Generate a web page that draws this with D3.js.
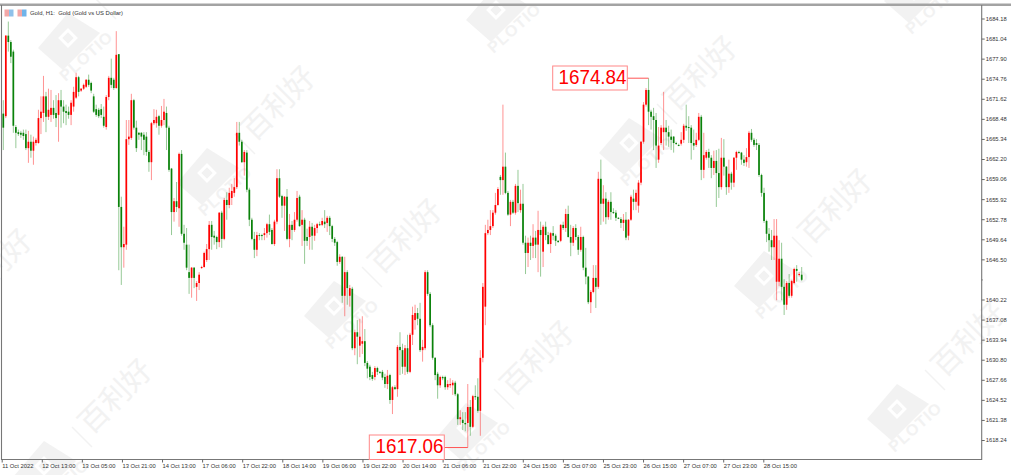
<!DOCTYPE html>
<html><head><meta charset="utf-8">
<script src="https://cdn.jsdelivr.net/npm/d3@7/dist/d3.min.js"></script>
<style>html,body{margin:0;padding:0;background:#fff;overflow:hidden}svg{display:block}text{font-family:"Liberation Sans",Arial,sans-serif}</style>
</head><body><svg id="c" width="1011" height="475"></svg>
<script>
const title = "Gold, H1:  Gold (Gold vs US Dollar)";
const xLabels = ["11 Oct 2022","12 Oct 13:00","13 Oct 05:00","13 Oct 21:00","14 Oct 13:00","17 Oct 06:00","17 Oct 22:00","18 Oct 14:00","19 Oct 06:00","19 Oct 22:00","20 Oct 14:00","21 Oct 06:00","21 Oct 22:00","24 Oct 15:00","25 Oct 07:00","25 Oct 23:00","26 Oct 15:00","27 Oct 07:00","27 Oct 23:00","28 Oct 15:00"];
const yLabels = [1684.18,1681.04,1677.90,1674.76,1671.62,1668.48,1665.34,1662.20,1659.06,1655.92,1652.78,1649.64,1646.50,1643.36,1640.22,1637.08,1633.94,1630.80,1627.66,1624.52,1621.38,1618.24];
const unlabelledTick = 1643.36;
const highLabel = 1674.84, lowLabel = 1617.06;

const opens = [
1669.3,1668.9,1681.5,1680.5,1679.0,1667.2,1666.4,1666.3,1666.3,1666.1,
1663.9,1664.9,1663.5,1664.7,1664.7,1668.6,1669.4,1672.0,1668.8,1669.1,
1670.2,1669.4,1669.1,1671.4,1670.4,1669.7,1669.6,1669.1,1670.4,1671.8,
1675.0,1672.9,1673.2,1673.5,1674.6,1674.1,1672.0,1670.0,1669.9,1670.0,
1668.8,1667.2,1671.9,1674.9,1674.6,1673.3,1678.6,1654.7,1648.4,1648.8,
1665.3,1665.5,1671.4,1667.1,1666.3,1666.3,1666.0,1665.7,1663.3,1661.7,
1667.8,1667.8,1668.9,1667.4,1668.3,1669.4,1667.1,1660.7,1653.9,1655.6,
1654.5,1663.0,1650.5,1648.8,1644.5,1643.6,1645.2,1642.2,1642.8,1645.2,
1645.3,1646.4,1648.1,1651.9,1650.2,1650.0,1649.2,1653.8,1649.7,1655.8,
1655.0,1656.1,1656.9,1657.8,1666.3,1664.9,1661.7,1663.2,1657.4,1652.7,
1649.7,1648.0,1650.3,1650.3,1650.3,1650.6,1652.0,1651.1,1648.9,1652.4,
1659.2,1656.4,1654.9,1656.3,1649.7,1651.9,1651.1,1652.7,1656.3,1651.9,
1652.7,1650.0,1650.0,1651.6,1650.2,1651.4,1652.0,1651.9,1652.4,1652.2,
1653.0,1651.7,1649.7,1649.2,1646.1,1646.9,1640.8,1644.5,1640.8,1641.9,
1632.6,1635.1,1633.0,1633.3,1633.7,1630.3,1629.7,1628.4,1628.1,1629.5,
1628.9,1628.9,1628.1,1627.0,1628.4,1624.5,1626.5,1626.2,1632.8,1632.3,
1629.7,1632.6,1628.9,1634.7,1637.0,1638.1,1637.2,1632.3,1632.6,1644.5,
1641.1,1636.2,1631.1,1628.6,1626.8,1628.1,1628.1,1626.5,1626.8,1626.8,
1627.2,1625.4,1621.5,1621.4,1620.9,1620.9,1623.4,1620.3,1625.1,1625.0,
1622.8,1631.1,1639.1,1650.6,1651.1,1651.7,1653.8,1655.0,1659.4,1658.9,
1661.0,1656.9,1653.5,1655.5,1653.8,1658.0,1654.2,1655.2,1649.1,1647.5,
1649.1,1648.6,1649.9,1648.8,1651.1,1647.7,1651.6,1650.3,1648.9,1650.6,
1650.2,1649.4,1649.4,1651.9,1651.4,1653.6,1650.0,1649.1,1651.4,1650.0,
1648.0,1650.0,1645.2,1643.8,1639.8,1641.4,1643.6,1642.2,1659.1,1655.2,
1656.0,1653.1,1655.5,1653.9,1653.8,1653.0,1652.8,1652.2,1652.7,1650.2,
1652.7,1656.0,1655.5,1654.9,1658.5,1664.9,1670.7,1673.0,1669.6,1668.9,
1668.3,1662.1,1664.7,1666.4,1667.1,1666.4,1665.7,1665.7,1664.7,1664.4,
1664.6,1665.2,1667.4,1667.2,1667.1,1664.7,1664.4,1665.2,1668.8,1660.5,
1662.4,1663.3,1662.4,1660.8,1661.9,1660.0,1657.8,1662.4,1661.0,1657.8,
1659.9,1658.5,1662.4,1663.3,1663.2,1662.1,1661.7,1662.5,1666.3,1665.2,
1664.7,1664.4,1659.7,1656.9,1652.5,1650.5,1649.5,1648.4,1643.0,1643.0,
1646.6,1642.2,1639.4,1642.8,1640.8,1642.8,1645.0,1644.1,1644.1];
const closes = [
1667.1,1681.5,1680.5,1678.2,1667.4,1666.3,1666.1,1666.0,1665.8,1663.9,
1664.9,1663.5,1664.9,1665.2,1668.6,1669.6,1672.0,1668.8,1669.9,1670.2,
1669.1,1668.6,1671.4,1670.4,1669.6,1669.4,1669.1,1671.0,1672.7,1675.0,
1672.7,1673.2,1673.8,1674.6,1673.8,1672.9,1669.6,1669.1,1668.9,1669.1,
1667.4,1671.9,1674.9,1673.8,1673.3,1678.5,1654.7,1648.4,1648.9,1665.3,
1665.7,1671.4,1667.1,1663.9,1666.0,1665.7,1665.2,1663.3,1661.7,1667.8,
1668.3,1668.8,1667.4,1668.3,1669.6,1667.1,1660.5,1653.9,1655.6,1654.7,
1663.0,1650.5,1649.1,1645.2,1643.6,1645.2,1643.6,1642.8,1644.1,1645.3,
1647.5,1648.1,1651.9,1650.0,1649.9,1649.2,1653.8,1649.7,1655.8,1655.0,
1656.9,1657.2,1657.8,1666.3,1664.9,1661.7,1663.3,1657.4,1652.7,1649.7,
1648.0,1650.3,1650.2,1650.2,1650.6,1652.0,1650.8,1648.9,1652.4,1659.2,
1656.3,1654.9,1656.3,1649.7,1651.9,1651.1,1652.7,1656.1,1651.7,1652.7,
1649.4,1649.4,1651.6,1650.2,1651.4,1652.0,1651.9,1652.5,1652.0,1653.0,
1651.7,1649.7,1649.1,1646.1,1646.9,1640.8,1644.5,1642.0,1642.0,1632.6,
1635.1,1634.4,1634.4,1633.7,1630.3,1629.4,1628.1,1627.8,1629.5,1628.9,
1628.8,1628.0,1627.0,1628.3,1624.5,1626.5,1626.2,1632.8,1632.3,1629.7,
1632.6,1628.9,1634.7,1637.8,1638.1,1637.2,1632.3,1632.8,1644.5,1641.1,
1636.2,1631.1,1628.4,1626.8,1628.1,1627.9,1626.5,1627.0,1627.0,1627.2,
1625.4,1621.5,1621.8,1620.9,1620.7,1623.4,1620.3,1625.1,1625.0,1622.8,
1631.1,1642.2,1650.6,1651.1,1651.7,1653.8,1655.0,1657.5,1658.9,1661.0,
1656.9,1653.5,1655.5,1653.8,1658.0,1655.3,1655.2,1649.1,1647.5,1649.1,
1648.6,1649.9,1648.8,1651.1,1650.3,1651.6,1650.3,1648.9,1650.6,1650.2,
1649.4,1649.2,1651.9,1651.4,1653.6,1650.0,1649.1,1651.4,1650.0,1648.0,
1650.0,1645.2,1643.8,1639.8,1641.4,1643.6,1642.2,1659.1,1655.2,1656.0,
1653.1,1655.5,1653.9,1653.8,1653.0,1652.9,1652.2,1652.7,1649.9,1652.7,
1656.3,1655.5,1656.9,1658.5,1664.9,1670.7,1673.0,1669.6,1668.8,1668.3,
1664.3,1664.3,1667.1,1667.1,1666.4,1665.7,1665.2,1664.7,1664.6,1664.3,
1665.2,1667.4,1667.1,1667.1,1664.7,1664.3,1665.2,1668.8,1660.5,1662.8,
1663.3,1662.4,1660.8,1661.9,1660.0,1657.8,1662.4,1661.0,1657.8,1659.9,
1658.5,1662.4,1663.3,1663.2,1662.1,1661.6,1662.5,1666.3,1665.2,1664.4,
1664.4,1659.7,1656.9,1652.5,1650.5,1649.5,1648.4,1650.2,1650.2,1646.6,
1642.2,1639.4,1642.8,1640.8,1643.1,1645.0,1644.7,1644.2,1643.3];
const highs = [
1671.4,1681.6,1683.7,1680.8,1679.3,1667.5,1666.8,1666.6,1666.8,1666.8,
1666.6,1666.0,1665.7,1665.5,1669.9,1672.0,1675.2,1672.7,1673.2,1673.0,
1671.4,1672.2,1672.5,1673.0,1671.4,1670.7,1670.4,1671.4,1673.5,1675.7,
1675.2,1673.3,1674.0,1674.7,1675.4,1674.3,1672.4,1670.7,1670.2,1670.8,
1670.4,1672.2,1675.2,1677.9,1674.9,1682.2,1678.6,1656.3,1651.6,1668.3,
1668.3,1672.4,1671.6,1668.2,1666.4,1666.4,1666.4,1666.4,1663.6,1668.0,
1670.0,1669.9,1669.1,1670.5,1671.6,1670.4,1667.4,1660.8,1656.1,1658.6,
1663.2,1663.6,1651.9,1651.4,1648.8,1645.3,1645.3,1643.1,1644.5,1645.5,
1647.7,1648.9,1652.5,1652.5,1650.95,1650.2,1653.9,1654.1,1656.1,1657.0,
1657.7,1658.3,1659.2,1668.0,1668.0,1665.2,1663.6,1663.6,1657.7,1653.0,
1650.8,1650.8,1650.6,1650.5,1651.4,1652.2,1653.5,1651.4,1652.7,1660.6,
1660.6,1656.6,1656.4,1657.5,1653.6,1652.5,1653.9,1657.2,1656.6,1654.2,
1653.0,1651.3,1652.5,1652.2,1651.9,1652.2,1652.4,1653.0,1654.2,1653.3,
1653.3,1651.9,1650.0,1649.4,1647.3,1647.0,1646.9,1644.8,1642.5,1642.2,
1635.5,1637.0,1637.2,1637.6,1635.6,1630.6,1630.0,1628.9,1629.8,1629.7,
1629.0,1629.2,1628.6,1629.2,1628.6,1626.7,1626.8,1633.1,1635.1,1633.3,
1633.1,1634.7,1635.0,1639.1,1639.4,1638.9,1639.7,1633.9,1644.8,1644.8,
1641.4,1636.5,1631.2,1628.9,1628.3,1628.3,1628.3,1627.6,1627.9,1627.6,
1627.5,1625.6,1622.9,1622.6,1622.6,1627.0,1624.5,1625.3,1626.8,1627.9,
1632.3,1642.8,1651.9,1652.7,1654.2,1654.2,1656.9,1657.8,1659.7,1670.7,
1663.2,1657.2,1655.8,1655.8,1658.3,1660.5,1657.4,1658.3,1650.2,1649.9,
1650.2,1652.0,1650.95,1654.1,1652.4,1651.9,1652.4,1650.8,1650.8,1651.7,
1650.5,1649.5,1652.0,1652.4,1654.4,1654.9,1651.9,1651.7,1652.0,1650.3,
1651.6,1650.2,1648.3,1643.9,1641.7,1645.6,1645.6,1660.2,1662.1,1658.1,
1657.0,1655.8,1657.0,1654.5,1654.2,1653.1,1653.1,1653.6,1653.9,1652.8,
1656.6,1657.4,1657.4,1658.9,1665.0,1671.1,1673.3,1674.84,1669.9,1670.2,
1669.4,1667.2,1667.5,1672.7,1668.3,1667.4,1666.8,1665.8,1664.9,1664.6,
1666.4,1667.7,1670.7,1668.9,1667.5,1666.8,1666.3,1669.4,1669.1,1666.3,
1663.6,1663.8,1662.8,1663.5,1663.6,1663.8,1665.5,1665.3,1661.1,1662.1,
1660.2,1662.5,1663.5,1663.5,1663.3,1662.8,1663.9,1666.6,1666.9,1665.5,
1665.3,1664.7,1659.9,1657.7,1652.7,1651.4,1651.1,1652.8,1652.8,1649.5,
1649.1,1643.4,1643.1,1644.2,1643.3,1645.2,1645.6,1644.5,1645.3];
const lows = [
1663.6,1668.6,1679.0,1677.2,1666.3,1663.9,1665.8,1665.5,1665.2,1663.6,
1661.6,1662.4,1661.3,1664.3,1664.6,1666.1,1668.0,1666.4,1668.3,1668.0,
1668.5,1667.2,1664.9,1667.1,1667.8,1667.5,1668.5,1667.5,1669.6,1671.6,
1672.0,1672.7,1673.0,1673.3,1673.5,1672.5,1669.4,1668.8,1668.6,1668.6,
1667.1,1666.8,1671.4,1673.3,1673.0,1673.2,1644.8,1642.5,1645.2,1648.0,
1664.4,1665.2,1666.8,1663.3,1665.2,1663.6,1662.8,1662.7,1660.2,1658.9,
1667.5,1667.1,1666.0,1667.1,1667.5,1663.6,1660.2,1650.3,1652.4,1653.9,
1651.6,1650.2,1648.0,1644.8,1641.1,1640.5,1642.0,1640.0,1641.7,1645.0,
1645.2,1646.1,1646.4,1648.0,1648.8,1648.1,1648.4,1648.3,1649.5,1652.7,
1654.5,1655.0,1656.3,1657.5,1664.3,1661.6,1659.6,1657.0,1651.7,1649.5,
1646.7,1647.0,1649.5,1649.5,1649.5,1649.9,1650.3,1648.8,1648.6,1652.0,
1656.1,1653.0,1650.95,1649.5,1648.4,1649.5,1650.8,1652.4,1651.6,1648.6,
1645.8,1648.6,1648.0,1648.0,1649.4,1650.6,1651.7,1651.7,1651.4,1650.8,
1650.3,1649.2,1648.6,1645.5,1645.8,1639.7,1637.6,1639.4,1639.1,1632.3,
1631.5,1630.1,1631.2,1631.7,1629.8,1627.9,1627.6,1627.5,1627.6,1628.4,
1628.6,1627.6,1626.4,1626.2,1623.9,1622.3,1626.1,1625.0,1628.4,1628.6,
1628.4,1628.6,1628.7,1633.1,1635.5,1636.2,1632.0,1630.5,1632.3,1640.8,
1635.9,1630.8,1627.6,1624.7,1626.4,1627.6,1626.1,1626.1,1626.4,1625.3,
1625.1,1620.6,1620.6,1619.8,1619.6,1617.06,1618.9,1620.1,1624.5,1622.5,
1618.9,1630.4,1636.2,1650.3,1650.3,1651.4,1653.5,1654.9,1656.6,1656.6,
1656.7,1653.3,1651.7,1653.6,1653.5,1653.9,1653.8,1648.8,1644.2,1645.3,
1646.4,1646.7,1646.7,1644.5,1643.8,1645.3,1649.5,1648.8,1647.5,1649.5,
1648.6,1649.1,1649.2,1651.1,1650.8,1649.9,1647.0,1648.6,1649.5,1647.2,
1647.7,1644.8,1642.6,1639.5,1638.1,1641.2,1638.9,1641.9,1651.9,1652.4,
1652.0,1652.7,1652.7,1653.6,1652.5,1652.8,1651.4,1650.95,1649.5,1649.5,
1652.5,1654.2,1654.2,1653.8,1658.1,1664.6,1670.4,1667.5,1666.8,1663.6,
1660.8,1661.6,1664.4,1663.6,1664.3,1664.1,1663.6,1663.2,1664.4,1664.2,
1664.3,1664.7,1666.6,1664.7,1662.1,1663.6,1664.1,1665.0,1658.9,1659.2,
1662.1,1660.8,1659.2,1659.7,1654.7,1656.1,1657.4,1659.6,1656.6,1656.9,
1657.4,1657.8,1660.5,1663.0,1661.3,1661.1,1661.0,1660.8,1664.9,1664.1,
1663.6,1659.4,1656.3,1652.2,1649.2,1647.7,1646.4,1646.4,1640.1,1642.3,
1640.1,1637.8,1638.6,1640.5,1640.5,1642.6,1643.0,1643.8,1643.1];

const wmDiamonds = [[69,42],[208,177],[335,310],[467,432],[497,14],[630,147],[765,280],[898,413],[45,470],[-75,340],[915,-5]];

const svg = d3.select("#c");
const x = d3.scaleLinear().domain([0, opens.length-1]).range([3.3, 801.7]);
const xTick = d3.scaleLinear().domain([0, 304]).range([1.7, 763.3]);
const y = d3.scaleLinear().domain([1684.18, 1618.24]).range([18.5, 440]);

// watermarks
const wmColor = "#f2f2f2";
const wm = svg.append("g").selectAll("g").data(wmDiamonds).join("g")
  .attr("transform", d => `translate(${d[0]},${d[1]})`);
wm.filter(d=>d[0]>-40).append("path").attr("d","M-1,-29L31,-9L-6,28L-31,6Z").attr("fill",wmColor);
wm.filter(d=>d[0]>-40).append("rect").attr("x",-5.5).attr("y",-5.5).attr("width",11).attr("height",11)
  .attr("transform","translate(-1,-4) rotate(45)").attr("fill",wmColor).attr("stroke","#fff").attr("stroke-width",3);
wm.filter(d=>d[0]>-40).append("text").text("PLOTIO").attr("transform","translate(18,15) rotate(-42)")
  .attr("text-anchor","middle").attr("dominant-baseline","middle")
  .attr("font-size",16).attr("font-weight",700).attr("letter-spacing",1).attr("fill",wmColor);
wm.append("line").attr("x1",27).attr("y1",-43).attr("x2",47).attr("y2",-23).attr("stroke",wmColor).attr("stroke-width",1.5);
wm.filter(d=>d[1]>60).append("text").text("百利好").attr("transform","translate(72,-72) rotate(-45)")
  .attr("text-anchor","middle").attr("dominant-baseline","middle")
  .style("font-family",'"Noto Sans CJK SC"').attr("font-size",30).attr("fill",wmColor);

// frame
svg.append("rect").attr("x",0).attr("y",3.5).attr("width",1011).attr("height",2.5).attr("fill","#a3a3a3");
svg.append("path").attr("d","M1.5,5V459.5H981.7V5").attr("fill","none").attr("stroke","#777").attr("stroke-width",1.1);

// axes
const yAxis = d3.axisRight(y).tickValues(yLabels).tickFormat(d => d === unlabelledTick ? "" : d3.format(".2f")(d)).tickSize(3).tickPadding(1);
const gy = svg.append("g").attr("transform","translate(981.7,0)").call(yAxis);
const xAxis = d3.axisBottom(xTick).tickValues(xLabels.map((_,i)=>i*16)).tickFormat((_,i)=>xLabels[i]).tickSize(3).tickPadding(0);
const gx = svg.append("g").attr("transform","translate(0,459.5)").call(xAxis);
gy.select(".domain").remove(); gx.select(".domain").remove();
gy.selectAll("line").attr("stroke","#666");
gy.selectAll("g.tick").filter(d=>d===unlabelledTick).select("line").attr("x2",1);
gx.selectAll("line").attr("stroke","#666");
gy.selectAll("text").attr("font-size",5.8).attr("fill","#333").style("font-family",'"Liberation Sans"');
gx.selectAll("text").attr("font-size",5.8).attr("fill","#333").attr("text-anchor","start").attr("y",4).style("font-family",'"Liberation Sans"');

// candles
const idx = d3.range(opens.length);
const isUp = i => closes[i] >= opens[i];
const col = i => isUp(i) ? "#ff0000" : "#0a820a";
svg.append("g").selectAll("line").data(idx).join("line")
  .attr("x1",i=>x(i)).attr("x2",i=>x(i)).attr("y1",i=>y(highs[i])).attr("y2",i=>y(lows[i]))
  .attr("stroke",col).attr("stroke-width",1).attr("opacity",0.42);
svg.append("g").selectAll("rect").data(idx).join("rect")
  .attr("x",i=>x(i)-0.85).attr("width",1.7)
  .attr("y",i=>Math.min(y(opens[i]),y(closes[i])))
  .attr("height",i=>Math.max(1,Math.abs(y(opens[i])-y(closes[i]))))
  .attr("fill",col);

// header
svg.append("text").text(title).attr("x",30).attr("y",14.5).attr("font-size",5.9).attr("fill","#333").attr("xml:space","preserve");
[[4.5,"#f2a7a7","#8fc1ea"],[17.5,"#f2a7a7","#6fb4ea"]].forEach(([ix,c1,c2])=>{
  svg.append("rect").attr("x",ix).attr("y",9.5).attr("width",4.5).attr("height",7).attr("fill",c1);
  svg.append("rect").attr("x",ix+4.5).attr("y",9.5).attr("width",4.5).attr("height",7).attr("fill",c2);
});

// extreme annotations
const hiI = highs.indexOf(highLabel), loI = lows.indexOf(lowLabel);
const note = (val, i, bx, by, bw, bh) => {
  svg.append("line").attr("x1",bx+bw).attr("x2",x(i)).attr("y1",y(val)).attr("y2",y(val)).attr("stroke","#ff5555").attr("stroke-width",1);
  svg.append("rect").attr("x",bx).attr("y",by).attr("width",bw).attr("height",bh).attr("fill","#fff").attr("stroke","#ff8888").attr("stroke-width",1);
  svg.append("text").text(val.toFixed(2)).attr("x",bx+bw-0.8).attr("y",by+bh/2+0.5).attr("text-anchor","end")
    .attr("dominant-baseline","middle").attr("font-size",20).attr("textLength",68).attr("lengthAdjust","spacingAndGlyphs").attr("fill","#ff0000");
};
note(highLabel, hiI, 552.7, 66, 74.6, 24);
note(lowLabel, loI, 369.3, 435, 75, 24.5);
</script></body></html>
